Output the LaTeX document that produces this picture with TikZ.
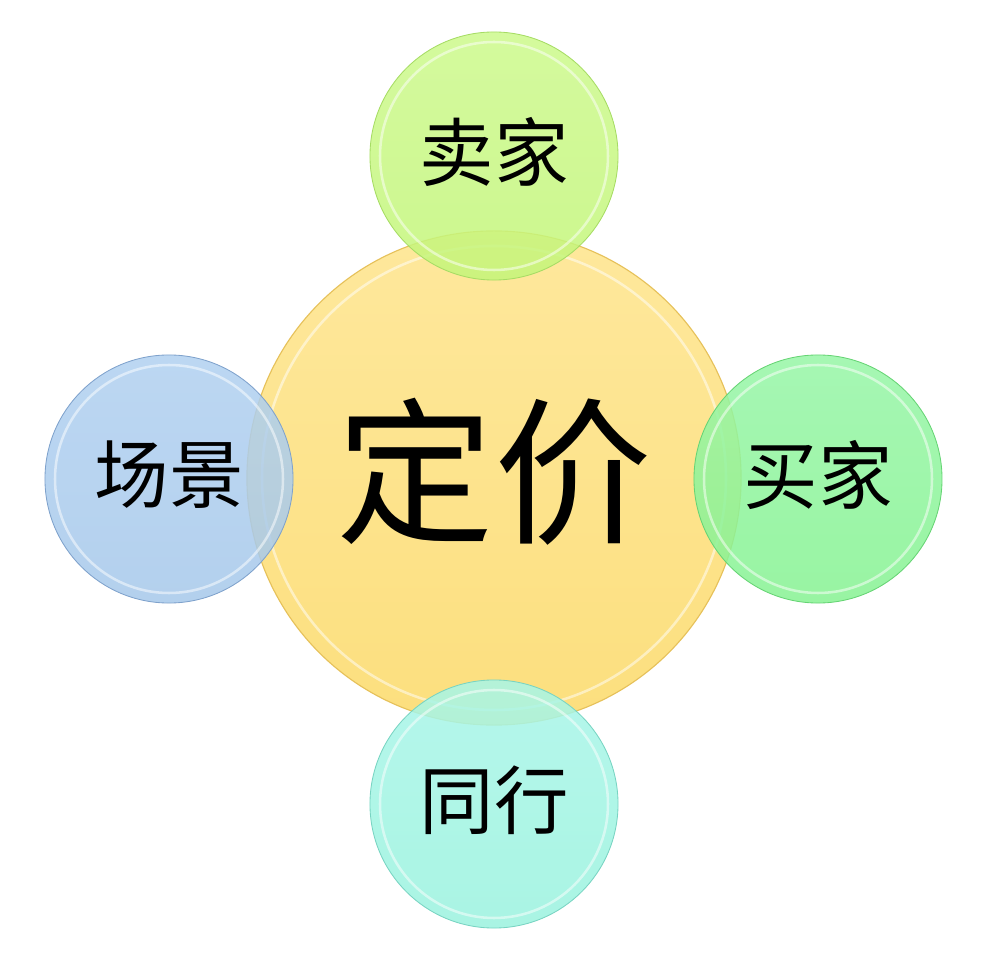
\documentclass[tikz,border=0pt]{standalone}
\usepackage{fontspec}
\newfontfamily\cjk{Noto Sans CJK SC}
\begin{document}
\begin{tikzpicture}[x=0.025cm,y=-0.025cm]
\definecolor{yelTop}{HTML}{FEE89C}
\definecolor{yelBot}{HTML}{FCDF7E}
\definecolor{yelEdge}{HTML}{E6C15A}
\definecolor{limeTop}{HTML}{CCF98C}
\definecolor{limeBot}{HTML}{C4F67A}
\definecolor{limeEdge}{HTML}{A6DC64}
\definecolor{grnTop}{HTML}{96F6A6}
\definecolor{grnBot}{HTML}{86F292}
\definecolor{grnEdge}{HTML}{66D474}
\definecolor{bluTop}{HTML}{B0D0F0}
\definecolor{bluBot}{HTML}{A6C8EA}
\definecolor{bluEdge}{HTML}{7FA2CC}
\definecolor{teaTop}{HTML}{A8F6E8}
\definecolor{teaBot}{HTML}{9AF2DE}
\definecolor{teaEdge}{HTML}{78D4C2}
\tikzset{
  bigdisc/.style={circle, inner sep=0pt, minimum size=12.35cm, top color=yelTop, bottom color=yelBot, draw=yelEdge, line width=0.8pt},
  smalldisc/.style={circle, inner sep=0pt, minimum size=6.2cm, fill opacity=0.85, line width=0.6pt},
  gloss/.style={draw=white, line width=1.8pt, opacity=0.5},
  bigtext/.style={font=\cjk\fontsize{112}{118}\selectfont},
  smalltext/.style={font=\cjk\fontsize{53}{58}\selectfont},
}
\useasboundingbox (0,0) rectangle (1008,964);
\node[bigdisc] (price) at (494,478) {};
\draw[gloss] (price.center) circle[radius=232];
\node[bigtext] (pricelabel) at ([yshift=0.15cm]price.center) {定价};
\node[smalldisc, top color=limeTop, bottom color=limeBot, draw=limeEdge] (seller) at (494,156) {};
\node[smalldisc, top color=grnTop, bottom color=grnBot, draw=grnEdge] (buyer) at (818,479) {};
\node[smalldisc, top color=bluTop, bottom color=bluBot, draw=bluEdge] (scene) at (169,479) {};
\node[smalldisc, top color=teaTop, bottom color=teaBot, draw=teaEdge] (peer) at (494,804) {};
\foreach \n in {seller,buyer,scene,peer}{
  \draw[gloss] (\n.center) circle[radius=114];
}
\node[smalltext] (sellerlabel) at ([yshift=0.1cm]seller.center) {卖家};
\node[smalltext] (buyerlabel) at ([yshift=0.1cm]buyer.center) {买家};
\node[smalltext] (scenelabel) at ([yshift=0.1cm]scene.center) {场景};
\node[smalltext] (peerlabel) at ([yshift=0.1cm]peer.center) {同行};
\end{tikzpicture}
\end{document}
